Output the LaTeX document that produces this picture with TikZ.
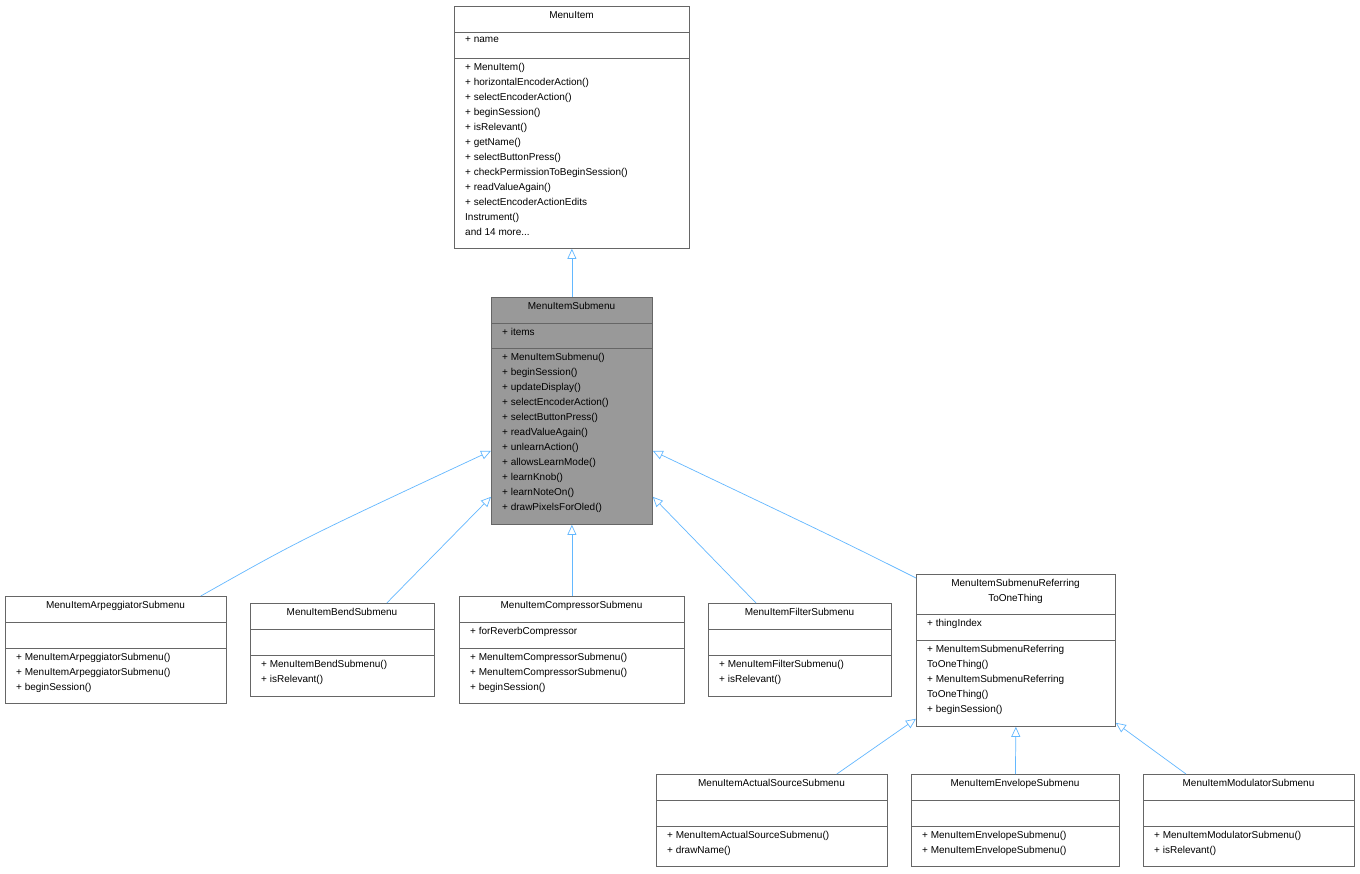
\documentclass[tikz,border=0pt]{standalone}
\usepackage{fontspec}
\setmainfont{Liberation Sans}
\usetikzlibrary{arrows.meta}
\definecolor{edge}{HTML}{63B8FF}
\definecolor{bord}{HTML}{666666}
\tikzset{
 boxfr/.style={draw=bord,line width=0.8pt,inner sep=0,anchor=north west},
 txt/.style={inner sep=0,font=\fontsize{10}{15}\selectfont,align=left,anchor=north west},
 ttl/.style={inner sep=0,font=\fontsize{10}{15}\selectfont,align=center,anchor=north},
 inh/.style={draw=edge,line width=0.7pt,-{Triangle[open,length=10pt,width=9pt,fill=white]}}
}
\newcommand\cbox[8]{%
 \node[boxfr,fill=#8,minimum width=#4pt-#2pt,minimum height=#5pt-#3pt] (#1) at (#2pt,-#3pt) {};
 \draw[bord,line width=0.8pt] (#2pt,-#6pt) -- (#4pt,-#6pt);
 \draw[bord,line width=0.8pt] (#2pt,-#7pt) -- (#4pt,-#7pt);
 \coordinate (#1-a) at (#2pt+11pt,-#6pt-5pt);
 \coordinate (#1-m) at (#2pt+11pt,-#7pt-5pt);
 \coordinate (#1-t) at (#2pt/2+#4pt/2,-#3pt-5pt);
}
\begin{document}
\begin{tikzpicture}[x=1pt,y=1pt]
\useasboundingbox (0,0) rectangle (1360,-873);
\fill[white] (0,0) rectangle (1360,-873);
\cbox{mi}{454}{6}{689}{248}{32}{58}{white}
\node[ttl] at (mi-t) {MenuItem};
\node[txt] at (mi-a) {+ name};
\node[txt] at (mi-m) {+ MenuItem()\\+ horizontalEncoderAction()\\+ selectEncoderAction()\\+ beginSession()\\+ isRelevant()\\+ getName()\\+ selectButtonPress()\\+ checkPermissionToBeginSession()\\+ readValueAgain()\\+ selectEncoderActionEdits\\Instrument()\\and 14 more...};
\cbox{sm}{491}{297}{652}{524}{323}{348}{black!40}
\node[ttl] at (sm-t) {MenuItemSubmenu};
\node[txt] at (sm-a) {+ items};
\node[txt] at (sm-m) {+ MenuItemSubmenu()\\+ beginSession()\\+ updateDisplay()\\+ selectEncoderAction()\\+ selectButtonPress()\\+ readValueAgain()\\+ unlearnAction()\\+ allowsLearnMode()\\+ learnKnob()\\+ learnNoteOn()\\+ drawPixelsForOled()};
\cbox{arp}{5}{596}{226}{703}{622}{648}{white}
\node[ttl] at (arp-t) {MenuItemArpeggiatorSubmenu};
\node[txt] at (arp-m) {+ MenuItemArpeggiatorSubmenu()\\+ MenuItemArpeggiatorSubmenu()\\+ beginSession()};
\cbox{bend}{250}{603}{434}{696}{629}{655}{white}
\node[ttl] at (bend-t) {MenuItemBendSubmenu};
\node[txt] at (bend-m) {+ MenuItemBendSubmenu()\\+ isRelevant()};
\cbox{comp}{459}{596}{684}{703}{622}{648}{white}
\node[ttl] at (comp-t) {MenuItemCompressorSubmenu};
\node[txt] at (comp-a) {+ forReverbCompressor};
\node[txt] at (comp-m) {+ MenuItemCompressorSubmenu()\\+ MenuItemCompressorSubmenu()\\+ beginSession()};
\cbox{filt}{708}{603}{891}{696}{629}{655}{white}
\node[ttl] at (filt-t) {MenuItemFilterSubmenu};
\node[txt] at (filt-m) {+ MenuItemFilterSubmenu()\\+ isRelevant()};
\cbox{ref}{916}{574}{1115}{726}{614}{640}{white}
\node[ttl] at (ref-t) {MenuItemSubmenuReferring\\ToOneThing};
\node[txt] at (ref-a) {+ thingIndex};
\node[txt] at (ref-m) {+ MenuItemSubmenuReferring\\ToOneThing()\\+ MenuItemSubmenuReferring\\ToOneThing()\\+ beginSession()};
\cbox{act}{656}{774}{887}{866}{800}{826}{white}
\node[ttl] at (act-t) {MenuItemActualSourceSubmenu};
\node[txt] at (act-m) {+ MenuItemActualSourceSubmenu()\\+ drawName()};
\cbox{env}{911}{774}{1119}{866}{800}{826}{white}
\node[ttl] at (env-t) {MenuItemEnvelopeSubmenu};
\node[txt] at (env-m) {+ MenuItemEnvelopeSubmenu()\\+ MenuItemEnvelopeSubmenu()};
\cbox{mod}{1143}{774}{1354}{866}{800}{826}{white}
\node[ttl] at (mod-t) {MenuItemModulatorSubmenu};
\node[txt] at (mod-m) {+ MenuItemModulatorSubmenu()\\+ isRelevant()};
\draw[inh] (sm.north) -- (mi.south);
\draw[inh] ([xshift=-26pt]arp.north east) .. controls (300pt,-540pt) .. ([yshift=74pt]sm.south west);
\draw[inh] ([xshift=-48pt]bend.north east) -- ([yshift=28pt]sm.south west);
\draw[inh] (comp.north) -- (sm.south);
\draw[inh] ([xshift=48pt]filt.north west) -- ([yshift=28pt]sm.south east);
\draw[inh] ([yshift=-4pt]ref.north west) .. controls (840pt,-540pt) .. ([yshift=74pt]sm.south east);
\draw[inh] ([xshift=-51pt]act.north east) -- ([yshift=8pt]ref.south west);
\draw[inh] (env.north) -- (ref.south);
\draw[inh] ([xshift=43pt]mod.north west) -- ([yshift=4pt]ref.south east);
\end{tikzpicture}
\end{document}
